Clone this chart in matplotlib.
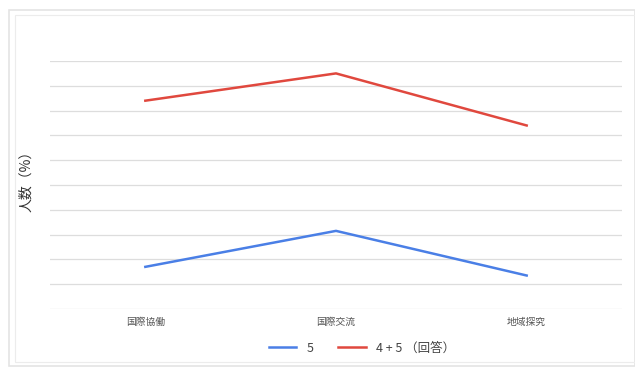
import matplotlib.pyplot as plt
from matplotlib.patches import Rectangle

plt.rcParams['font.family'] = ['Noto Sans CJK JP', 'DejaVu Sans']

categories = ['国際協働', '国際交流', '地域探究']
score_5 = [17, 31.5, 13.5]
score_45 = [84, 95, 74]

W, H = 635, 367
fig = plt.figure(figsize=(W / 100, H / 100), dpi=100)

# light frame around the chart
fig.patches.append(Rectangle((9 / W, 1 - 366 / H), (W - 9) / W, 356 / H,
                             transform=fig.transFigure, fill=False,
                             edgecolor='#e4e4e4', linewidth=1.2))
fig.patches.append(Rectangle((15 / W, 1 - 362 / H), (W - 15) / W, 347 / H,
                             transform=fig.transFigure, fill=False,
                             edgecolor='#ececec', linewidth=0.8))

ax = fig.add_axes([50 / W, 1 - 309 / H, 572 / W, 248 / H])
x = range(len(categories))
ax.plot(x, score_5, color='#4a7fe6', linewidth=1.8, label='5')
ax.plot(x, score_45, color='#e0483e', linewidth=1.8, label='4 + 5 （回答）')

ax.set_xlim(-0.5, 2.5)
ax.set_ylim(0, 100)
ax.set_yticks(range(0, 101, 10))
ax.set_yticklabels([])
ax.tick_params(axis='y', length=0)
ax.set_xticks(list(x))
ax.set_xticklabels(categories, fontsize=7, color='#555555')
ax.tick_params(axis='x', length=0, pad=6)
ax.grid(axis='y', color='#dddddd', linewidth=0.9)
ax.set_axisbelow(True)
for s in ax.spines.values():
    s.set_visible(False)

ax.set_ylabel('人数（%）', fontsize=10, color='#333333', labelpad=3)
ax.yaxis.set_label_coords(-0.03, 0.53)

fig.legend(loc='center', bbox_to_anchor=(362 / W, 1 - 348 / H), ncol=2,
           frameon=False, fontsize=9, handlelength=2.2, columnspacing=2.0,
           labelcolor='#444444')

fig.savefig('out.png', dpi=100)
